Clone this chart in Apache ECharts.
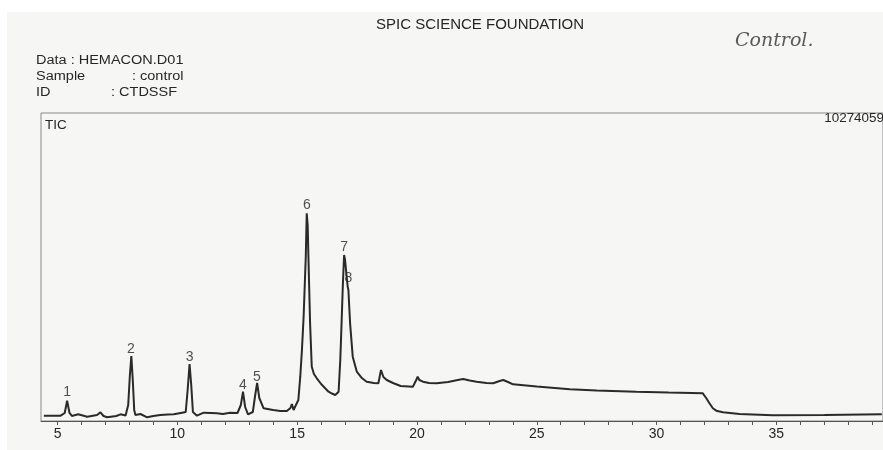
<!DOCTYPE html>
<html>
<head>
<meta charset="utf-8">
<script src="https://cdn.jsdelivr.net/npm/echarts@6/dist/echarts.min.js"></script>
<style>html,body{margin:0;padding:0;background:#fff}#c{width:883px;height:450px}</style>
</head>
<body>
<div id="c"></div>
<script>
// Retention time (min)
const times = [4.43,5.13,5.30,5.40,5.50,5.60,5.86,6.24,6.65,6.79,6.92,7.07,7.45,7.63,7.84,7.95,8.02,8.08,8.14,8.20,8.25,8.46,8.74,9.00,9.29,9.60,9.85,10.20,10.35,10.43,10.51,10.58,10.65,10.82,11.10,11.40,11.65,11.90,12.20,12.51,12.65,12.74,12.83,12.95,13.15,13.25,13.33,13.42,13.60,14.00,14.30,14.57,14.72,14.78,14.85,14.92,15.05,15.13,15.20,15.27,15.36,15.40,15.44,15.47,15.54,15.61,15.70,15.82,16.00,16.17,16.31,16.45,16.59,16.73,16.80,16.83,16.91,16.96,17.00,17.04,17.08,17.11,17.14,17.17,17.21,17.32,17.49,17.70,17.90,18.20,18.39,18.45,18.50,18.60,18.74,19.00,19.32,19.83,19.97,20.03,20.10,20.25,20.50,20.82,21.30,21.70,21.93,22.20,22.49,22.90,23.18,23.45,23.60,23.80,24.01,25.00,26.38,27.50,29.15,30.50,31.93,32.07,32.20,32.35,32.49,32.77,33.46,34.85,37.00,39.40];
// Total ion current (counts)
const tic = [177000,177000,267000,677000,267000,167000,223000,143000,200000,290000,167000,123000,167000,223000,183000,534000,1534000,2168000,1368000,367000,200000,233000,123000,167000,200000,217000,223000,277000,300000,1034000,1901000,1201000,300000,177000,277000,267000,257000,233000,277000,267000,534000,977000,467000,223000,300000,867000,1268000,767000,424000,367000,334000,334000,434000,567000,367000,310000,700000,1478000,2368000,3479000,5481000,6928000,6538000,5481000,3259000,1811000,1568000,1424000,1234000,1091000,977000,917000,867000,977000,2035000,2702000,4593000,5537000,5370000,5037000,4703000,4480000,4370000,3869000,3259000,2145000,1645000,1434000,1311000,1268000,1258000,1501000,1701000,1468000,1368000,1268000,1167000,1144000,1368000,1478000,1368000,1311000,1268000,1258000,1301000,1368000,1401000,1351000,1311000,1268000,1258000,1334000,1368000,1301000,1224000,1151000,1057000,1017000,977000,951000,924000,767000,600000,424000,344000,290000,233000,190000,200000,223000];
// Peak labels (number, label anchor time, label anchor value)
const peakNames = ['1','2','3','4','5','6','7','8'];
const peakLabelTimes = [5.40,8.06,10.51,12.74,13.32,15.41,16.96,17.14];
const peakLabelValues = [967000,2400000,2135000,1200000,1470000,7205000,5800000,4770000];
const xTickLabels = [5,10,15,20,25,30,35];
const xTicks = [5,6,7,8,9,10,11,12,13,14,15,16,17,18,19,20,21,22,23,24,25,26,27,28,29,30,31,32,33,34,35,36,37,38,39];
const fullScale = 10274059;

const chart = echarts.init(document.getElementById('c'), null, {renderer:'canvas'});
const font = 'Liberation Sans, Arial, sans-serif';
function txt(str, x, y, size, sx, align) {
  return {type:'text', x:x, y:y, scaleX:sx, originX:0, originY:0,
    style:{text:str, font:size+'px '+font, fill:'#262626', align:align||'left', verticalAlign:'middle'}};
}
chart.setOption({
  backgroundColor: '#ffffff',
  animation: false,
  graphic: [
    {type:'rect', z:-100, shape:{x:7,y:12,width:876,height:438}, style:{fill:'#f6f6f5'}},
    txt('SPIC SCIENCE FOUNDATION', 376, 25, 15, 1.0),
    txt('Data : HEMACON.D01', 36, 61, 12.5, 1.16),
    txt('Sample', 36, 77, 12.5, 1.16),
    txt(': control', 132, 77, 12.5, 1.16),
    txt('ID', 36, 93, 12.5, 1.16),
    txt(': CTDSSF', 111, 93, 12.5, 1.16),
    {type:'text', x:735, y:41, style:{text:'Control.', font:'italic 19px DejaVu Serif, serif', fill:'#5a5a5a', verticalAlign:'middle'}},
    txt('TIC', 45, 126, 12, 1.12),
    {type:'text', x:884, y:119, scaleX:1.12, originX:0,
      style:{text:'10274059', font:'12px '+font, fill:'#262626', align:'right', verticalAlign:'middle'}}
  ],
  grid: {left:41, right:-2, top:113, bottom:29, show:true, borderWidth:1, borderColor:'#8a8a8a', backgroundColor:'transparent'},
  xAxis: {
    type:'value', min:4.31, max:39.45,
    axisLine:{show:true, lineStyle:{color:'#555', width:1}},
    axisTick:{show:true, customValues:xTicks, length:4, lineStyle:{color:'#555'}},
    axisLabel:{show:true, customValues:xTickLabels, color:'#262626', fontSize:14, fontFamily:font, margin:6},
    splitLine:{show:false}
  },
  yAxis: {
    type:'value', min:0, max:fullScale,
    axisLine:{show:false}, axisTick:{show:false}, axisLabel:{show:false}, splitLine:{show:false}
  },
  series: [
    {
      type:'line', showSymbol:false, smooth:false,
      data: times.map((t,i)=>[t,tic[i]]),
      lineStyle:{color:'#2a2a2a', width:2}
    },
    {
      type:'scatter', symbolSize:0,
      data: peakNames.map((n,i)=>({name:n, value:[peakLabelTimes[i], peakLabelValues[i]]})),
      label:{show:true, position:'inside', formatter:'{b}', color:'#262626', fontSize:14, fontFamily:font}
    }
  ]
});
</script>
</body>
</html>
